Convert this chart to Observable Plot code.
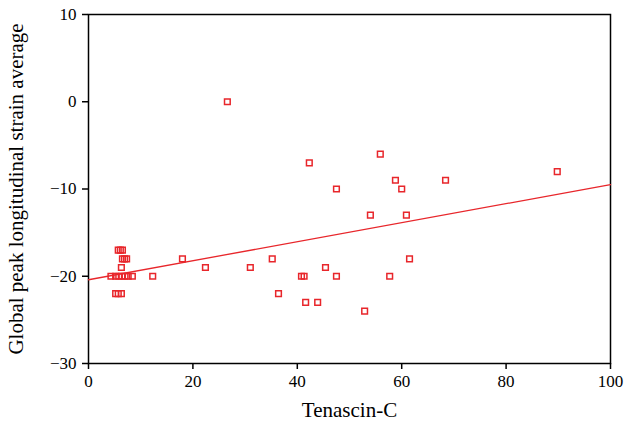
<!DOCTYPE html>
<html><head><meta charset="utf-8">
<script src="https://cdn.jsdelivr.net/npm/d3@7"></script>
<script src="https://cdn.jsdelivr.net/npm/@observablehq/plot@0.6"></script>
<style>body{margin:0;background:#fff}svg{display:block}</style>
</head><body><div id="chart"></div>
<script>
const tenascin = [26.6, 55.9, 42.3, 47.5, 58.8, 60.0, 68.4, 89.8, 54.0, 60.9, 61.5, 57.7, 47.5, 45.4, 40.8, 41.3, 35.2, 31.0, 36.4, 41.6, 43.9, 52.9, 22.4, 18.0, 12.3,
  5.7, 6.1, 6.5, 6.5, 6.9, 7.3, 6.3, 4.3, 5.2, 5.8, 6.4, 7.0, 7.6, 8.4, 5.2, 5.7, 6.3];
const strain = [0, -6, -7, -10, -9, -10, -9, -8, -13, -13, -18, -20, -20, -19, -20, -20, -18, -19, -22, -23, -23, -24, -19, -18, -20,
  -17, -17, -17, -18, -18, -18, -19, -20, -20, -20, -20, -20, -20, -20, -22, -22, -22];
const fitIntercept = -20.4;
const fitSlope = 0.109;
const fitRange = [0, 100];
const xTicks = [0, 20, 40, 60, 80, 100];
const yTicks = [-30, -20, -10, 0, 10];
const xTitle = "Tenascin-C";
const yTitle = "Global peak longitudinal strain average";

const points = tenascin.map((x, i) => ({x, y: strain[i]}));
const fit = fitRange.map(x => ({x, y: fitIntercept + fitSlope * x}));
const red = "#e8262b";
const fmt = d => d < 0 ? "\u2212" + Math.abs(d) : String(d);

const chart = Plot.plot({
  width: 624, height: 426,
  marginLeft: 88, marginRight: 14, marginTop: 14, marginBottom: 63,
  style: {fontFamily: "'Liberation Serif', serif", fontSize: "17px", color: "#000", background: "#fff"},
  x: {domain: [0, 100]},
  y: {domain: [-30, 10]},
  marks: [
    Plot.frame({stroke: "#000", strokeWidth: 1.5}),
    Plot.axisX({ticks: xTicks, tickSize: 6, tickPadding: 5, label: null, strokeWidth: 1.5, fontSize: 17}),
    Plot.axisY({ticks: yTicks, tickSize: 6, tickPadding: 6, label: null, strokeWidth: 1.5, fontSize: 17, tickFormat: fmt}),
    Plot.text([xTitle], {frameAnchor: "bottom", dy: 53, fontSize: 21, textAnchor: "middle", text: d => d}),
    Plot.text([yTitle], {frameAnchor: "left", dx: -72, rotate: -90, fontSize: 21, textAnchor: "middle", text: d => d}),
    Plot.line(fit, {x: "x", y: "y", stroke: red, strokeWidth: 1.3}),
    Plot.dot(points, {x: "x", y: "y", symbol: "square", r: 3.2, stroke: red, strokeWidth: 1.5, fill: "none"})
  ]
});
document.getElementById("chart").appendChild(chart);
</script>
</body></html>
